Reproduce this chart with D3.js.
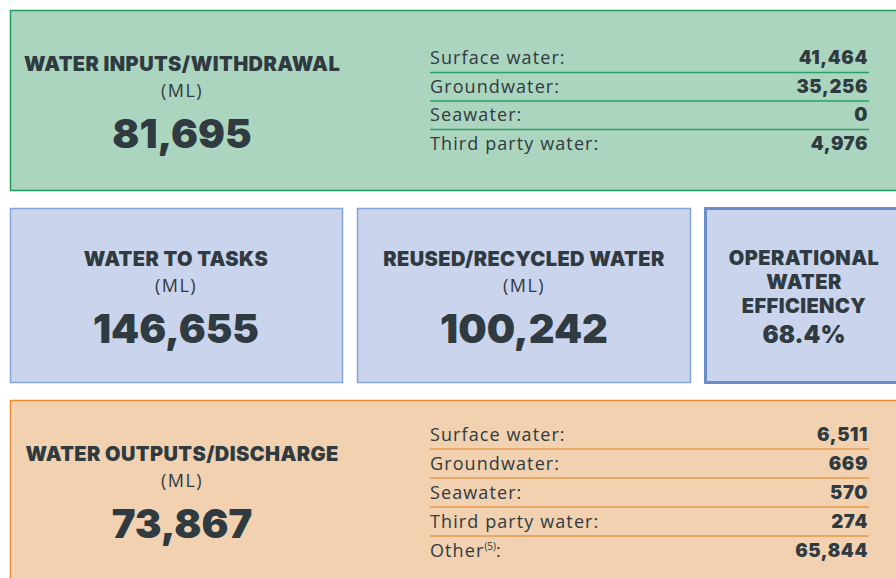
<!DOCTYPE html>
<html><head><meta charset="utf-8">
<script src="https://cdn.jsdelivr.net/npm/d3@7"></script>
<style>
html,body{margin:0;padding:0;background:#fff;}
svg{display:block;}
</style></head>
<body>
<svg id="chart" width="896" height="578"></svg>
<script>
// ---- data ----
const inputLabels = ["Surface water:", "Groundwater:", "Seawater:", "Third party water:"];
const inputValues = [41464, 35256, 0, 4976];
const outputLabels = ["Surface water:", "Groundwater:", "Seawater:", "Third party water:", "Other"];
const outputValues = [6511, 669, 570, 274, 65844];
const totalTitles = ["WATER INPUTS/WITHDRAWAL", "WATER TO TASKS", "REUSED/RECYCLED WATER", "WATER OUTPUTS/DISCHARGE"];
const totalValues = [81695, 146655, 100242, 73867];
const unitLabel = "(ML)";
const efficiencyTitle = ["OPERATIONAL", "WATER", "EFFICIENCY"];
const efficiencyValue = 68.4;

// ---- styles ----
const ink = "#2f3a41";
const boldFont = "Inter, 'Open Sans', sans-serif";
const lightFont = "'Open Sans', Lato, sans-serif";
const fmt = d3.format(",");
const svg = d3.select("#chart");

function box(x, y, w, h, fill, stroke, sw) {
  svg.append("rect").attr("x", x).attr("y", y).attr("width", w).attr("height", h)
    .attr("fill", fill).attr("stroke", stroke).attr("stroke-width", sw);
}
function title(cx, y, txt) {
  return svg.append("text").attr("x", cx).attr("y", y).attr("text-anchor", "middle")
    .attr("font-family", boldFont).attr("font-weight", 900).attr("font-size", 20)
    .attr("letter-spacing", 0.4).attr("fill", ink).text(txt);
}
function summary(cx, yTitle, t, value) {
  title(cx, yTitle, t);
  svg.append("text").attr("x", cx).attr("y", yTitle + 26).attr("text-anchor", "middle")
    .attr("font-family", lightFont).attr("font-weight", 400).attr("font-size", 18)
    .attr("letter-spacing", 1.5).attr("fill", ink).text(unitLabel);
  svg.append("text").attr("x", cx).attr("y", yTitle + 77).attr("text-anchor", "middle")
    .attr("font-family", boldFont).attr("font-weight", 900).attr("font-size", 40)
    .attr("fill", ink).text(fmt(value));
}
function table(labels, values, yTop, step, lineColor) {
  const y = d3.scaleBand().domain(d3.range(labels.length))
    .range([yTop, yTop + step * labels.length]).paddingInner(0).paddingOuter(0);
  const x0 = 430, x1 = 869;
  const g = svg.append("g");
  labels.forEach((lab, i) => {
    const base = y(i) + step * 0.5 + 6;
    const t = g.append("text").attr("x", x0).attr("y", base)
      .attr("font-family", lightFont).attr("font-weight", 400).attr("font-size", 18)
      .attr("fill", ink).attr("letter-spacing", 1.1).text(lab);
    if (lab === "Other") {
      t.append("tspan").attr("font-size", 10).attr("letter-spacing", 0).attr("dy", -7).text("(5)");
      t.append("tspan").attr("dy", 7).text(":");
    }
    g.append("text").attr("x", x1 - 1).attr("y", base).attr("text-anchor", "end")
      .attr("font-family", boldFont).attr("font-weight", 900).attr("font-size", 18.5)
      .attr("letter-spacing", 0.6).attr("fill", ink).text(fmt(values[i]));
    if (i < labels.length - 1) {
      g.append("line").attr("x1", x0).attr("x2", x1)
        .attr("y1", y(i) + step).attr("y2", y(i) + step)
        .attr("stroke", lineColor).attr("stroke-width", 1.5);
    }
  });
}

// top box (inputs)
box(10.5, 10.5, 900, 180, "#acd5bf", "#1f9e5e", 1.5);
summary(182, 71, totalTitles[0], totalValues[0]);
table(inputLabels, inputValues, 44, 28.5, "#27a36a");

// middle row
box(10.5, 208.5, 332, 174, "#cad4ec", "#86a5d9", 1.5);
summary(176, 266, totalTitles[1], totalValues[1]);
box(357.5, 208.5, 333, 174, "#cad4ec", "#86a5d9", 1.5);
summary(524, 266, totalTitles[2], totalValues[2]);
box(705.5, 208.5, 200, 174, "#cad4ec", "#6b8dc9", 3);
efficiencyTitle.forEach((t, i) => title(804, 265 + i * 24, t));
svg.append("text").attr("x", 804).attr("y", 343).attr("text-anchor", "middle")
  .attr("font-family", boldFont).attr("font-weight", 900).attr("font-size", 24)
  .attr("fill", ink).text(efficiencyValue.toFixed(1) + "%");

// bottom box (outputs)
box(10.5, 400.5, 900, 200, "#f1d1b0", "#e88b2b", 1.5);
summary(182, 461, totalTitles[3], totalValues[3]);
table(outputLabels, outputValues, 420, 29, "#e39a4e");
</script>
</body></html>
